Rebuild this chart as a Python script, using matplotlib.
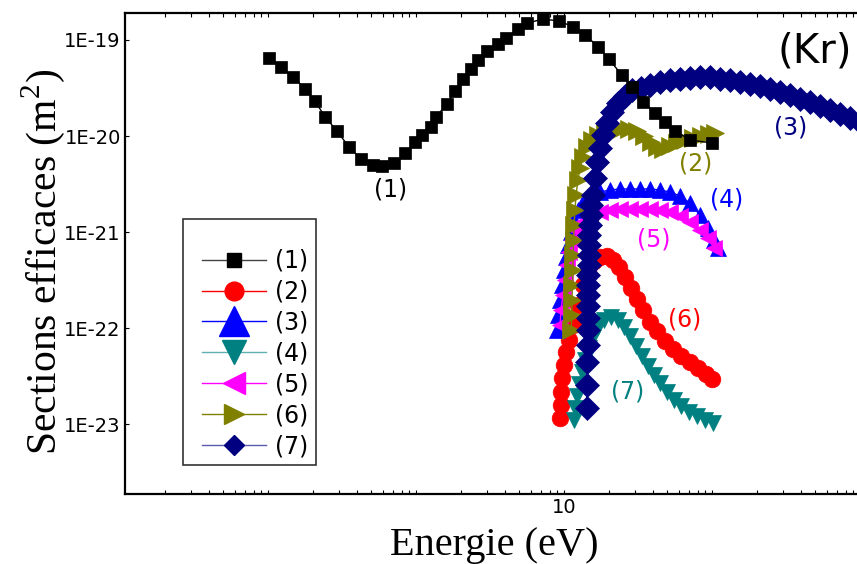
"""
Kr cross sections vs electron energy, log-log, seven data sets.
"""

import matplotlib

matplotlib.use("Agg")
import matplotlib.pyplot as plt  # noqa: E402
import numpy as np  # noqa: E402
from matplotlib.lines import Line2D  # noqa: E402
from matplotlib.patches import Rectangle  # noqa: E402
from matplotlib.ticker import FuncFormatter, LogLocator, NullLocator  # noqa: E402

# (1) momentum transfer, black squares
energy_1 = [0.102, 0.1225, 0.148, 0.178, 0.208, 0.243, 0.292, 0.352, 0.425, 0.512,
            0.589, 0.71, 0.843, 0.985, 1.10, 1.26, 1.36, 1.62, 1.84, 2.08,
            2.35, 2.62, 3.02, 3.58, 4.06, 4.89, 5.62, 7.21, 9.25, 11.5,
            13.9, 17.0, 20.1, 24.7, 28.8, 34.2, 41.2, 48.1, 56.2, 71.0, 100.0]
sigma_1 = [6.5e-20, 5.2e-20, 4.1e-20, 3.1e-20, 2.3e-20, 1.58e-20, 1.13e-20, 7.7e-21, 5.75e-21, 5.0e-21,
           4.87e-21, 5.2e-21, 6.65e-21, 8.66e-21, 1.02e-20, 1.24e-20, 1.58e-20, 2.15e-20, 2.94e-20, 3.9e-20,
           4.99e-20, 6.2e-20, 7.7e-20, 9.1e-20, 1.05e-19, 1.30e-19, 1.50e-19, 1.65e-19, 1.58e-19, 1.37e-19,
           1.13e-19, 8.5e-20, 6.3e-20, 4.3e-20, 3.24e-20, 2.26e-20, 1.74e-20, 1.40e-20, 1.13e-20, 9.1e-21, 8.45e-21]

# (2) red circles
energy_2 = [9.40, 9.47, 9.54, 9.69, 10.0, 10.31, 10.81, 11.50, 12.43, 13.44,
            14.53, 15.95, 17.51, 19.52, 21.43, 23.53, 25.83, 28.37, 31.13, 34.19,
            38.12, 42.51, 48.13, 54.51, 61.74, 71.03, 80.44, 91.09, 100.0]
sigma_2 = [1.15e-23, 1.58e-23, 2.15e-23, 3.01e-23, 4.12e-23, 5.62e-23, 7.50e-23, 1.07e-22, 1.74e-22, 2.81e-22,
           4.02e-22, 4.99e-22, 5.49e-22, 5.62e-22, 5.11e-22, 4.32e-22, 3.40e-22, 2.61e-22, 2.00e-22, 1.54e-22,
           1.15e-22, 9.31e-23, 7.32e-23, 6.04e-23, 5.11e-23, 4.43e-23, 3.83e-23, 3.32e-23, 2.94e-23]

# (3) blue up triangles
energy_3 = [8.97, 9.11, 9.40, 9.69, 10.0, 10.31, 10.64, 11.15, 11.68, 12.43,
            13.44, 14.99, 17.51, 20.46, 23.90, 27.92, 32.62, 38.12, 44.54, 52.03,
            60.79, 71.03, 82.98, 93.97, 103.2, 109.8]
sigma_3 = [9.53e-23, 1.37e-22, 1.96e-22, 2.81e-22, 4.02e-22, 5.49e-22, 7.32e-22, 1.00e-21, 1.33e-21, 1.70e-21,
           2.05e-21, 2.37e-21, 2.61e-21, 2.74e-21, 2.81e-21, 2.81e-21, 2.81e-21, 2.81e-21, 2.74e-21, 2.61e-21,
           2.37e-21, 2.00e-21, 1.50e-21, 1.10e-21, 8.25e-22, 6.81e-22]

# (4) teal down triangles
energy_4 = [11.68, 11.87, 12.24, 12.63, 13.23, 13.87, 14.75, 15.70, 16.97, 18.63,
            20.78, 23.17, 25.43, 27.92, 30.66, 33.65, 36.95, 40.57, 44.54, 49.65,
            55.37, 61.74, 69.93, 79.20, 89.68, 101.6]
sigma_4 = [1.10e-23, 1.47e-23, 1.96e-23, 2.61e-23, 3.48e-23, 4.64e-23, 6.19e-23, 8.06e-23, 1.02e-22, 1.21e-22,
           1.30e-22, 1.21e-22, 1.02e-22, 8.25e-23, 6.49e-23, 5.11e-23, 4.02e-23, 3.24e-23, 2.67e-23, 2.15e-23,
           1.78e-23, 1.54e-23, 1.33e-23, 1.21e-23, 1.10e-23, 1.02e-23]

# (5) magenta left triangles
energy_5 = [9.40, 9.54, 9.84, 10.16, 10.48, 10.81, 11.33, 12.05, 13.23, 14.99,
            17.51, 20.46, 23.90, 27.92, 32.62, 38.12, 44.54, 52.03, 60.79, 71.03,
            82.98, 93.97, 103.2]
sigma_5 = [1.07e-22, 1.54e-22, 2.21e-22, 3.16e-22, 4.53e-22, 6.19e-22, 8.25e-22, 1.05e-21, 1.27e-21, 1.47e-21,
           1.62e-21, 1.70e-21, 1.74e-21, 1.74e-21, 1.74e-21, 1.74e-21, 1.70e-21, 1.62e-21, 1.47e-21, 1.27e-21,
           1.05e-21, 8.66e-22, 6.81e-22]

# (6) olive right triangles
energy_6 = [11.20, 11.27, 11.33, 11.40, 11.47, 11.53, 11.60, 11.68, 11.87, 12.05,
            12.43, 12.83, 13.44, 14.30, 15.46, 16.97, 18.92, 21.43, 24.27, 27.49,
            31.13, 34.72, 38.72, 42.51, 46.67, 52.03, 58.02, 65.70, 74.41, 84.28,
            95.44, 104.8]
sigma_6 = [9.53e-23, 1.37e-22, 1.96e-22, 2.81e-22, 4.02e-22, 5.76e-22, 8.25e-22, 1.18e-21, 1.70e-21, 2.43e-21,
           3.48e-21, 4.64e-21, 6.04e-21, 7.68e-21, 9.08e-21, 1.02e-20, 1.10e-20, 1.15e-20, 1.18e-20, 1.18e-20,
           1.13e-20, 1.00e-20, 8.66e-21, 7.68e-21, 7.32e-21, 7.87e-21, 8.46e-21, 9.08e-21, 9.53e-21, 1.00e-20,
           1.05e-20, 1.07e-20]

# (7) navy diamonds
energy_7 = [14.20, 14.30, 14.40, 14.45, 14.50, 14.53, 14.55, 14.58, 14.60, 14.62,
            14.65, 14.70, 14.75, 14.85, 14.95, 15.10, 15.30, 15.70, 16.20, 16.71,
            17.51, 18.35, 19.52, 21.10, 23.17, 25.83, 28.81, 33.14, 38.12, 44.54,
            52.03, 60.79, 71.03, 82.98, 96.94, 113.3, 132.3, 154.6, 180.6, 211.0,
            246.6, 288.1, 336.5, 393.2, 459.4, 536.7, 627.1, 732.6, 855.8, 1000.0]
sigma_7 = [1.47e-23, 2.55e-23, 4.43e-23, 6.65e-23, 9.53e-23, 1.27e-22, 1.70e-22, 2.21e-22, 2.81e-22, 3.56e-22,
           4.53e-22, 5.76e-22, 7.32e-22, 9.31e-22, 1.18e-21, 1.50e-21, 1.91e-21, 2.43e-21, 3.65e-21, 5.36e-21,
           7.50e-21, 1.02e-20, 1.37e-20, 1.78e-20, 2.21e-20, 2.61e-20, 3.01e-20, 3.16e-20, 3.40e-20, 3.65e-20,
           3.83e-20, 3.93e-20, 4.02e-20, 4.12e-20, 4.12e-20, 3.93e-20, 3.83e-20, 3.65e-20, 3.48e-20, 3.32e-20,
           3.09e-20, 2.87e-20, 2.67e-20, 2.43e-20, 2.26e-20, 2.05e-20, 1.87e-20, 1.70e-20, 1.54e-20, 1.40e-20]

labels = ["(1)", "(2)", "(3)", "(4)", "(5)", "(6)", "(7)"]
colors = ["black", "#ff0000", "#0000ff", "#008080", "#ff00ff", "#808000", "#000080"]
markers = ["s", "o", "^", "v", "<", ">", "D"]

W, H = 857, 564


def fx(px):
    return px / W


def fy(py):
    return 1 - py / H


fig = plt.figure(figsize=(W / 100, H / 100), dpi=100)
ax = fig.add_axes([fx(125), fy(494), (860 - 125) / W, (494 - 13) / H])
ax.set_xscale("log")
ax.set_yscale("log")
ax.set_xlim(0.0108, 1000)
ax.set_ylim(1.87e-24, 1.91e-19)

data = [(energy_1, sigma_1), (energy_2, sigma_2), (energy_3, sigma_3), (energy_4, sigma_4),
        (energy_5, sigma_5), (energy_6, sigma_6), (energy_7, sigma_7)]
plot_ms = [8.5, 12, 12, 12, 12, 12.5, 12]
for i, ((e, s), c, m, ms) in enumerate(zip(data, colors, markers, plot_ms)):
    ax.plot(e, s, color=c, lw=1, marker=m, ms=ms, mec=c, mew=0.5,
            zorder=10 if i == 0 else 3 + i)

# axes styling
for side in ("left", "bottom", "top"):
    ax.spines[side].set_linewidth(1.6)
ax.spines["right"].set_visible(False)
ax.xaxis.set_major_locator(LogLocator(base=10, numticks=20))
ax.xaxis.set_minor_locator(LogLocator(base=10, subs=np.arange(2, 10), numticks=20))
ax.xaxis.set_major_formatter(FuncFormatter(lambda v, p: "10" if abs(v - 10) < 1e-6 else ""))
ax.xaxis.set_minor_formatter(FuncFormatter(lambda v, p: ""))
ax.yaxis.set_major_locator(LogLocator(base=10, numticks=20))
ax.yaxis.set_minor_locator(NullLocator())
ax.yaxis.set_major_formatter(FuncFormatter(lambda v, p: f"1E{int(round(np.log10(v)))}"))
ax.tick_params(which="both", direction="in", top=True, right=False, length=3, width=0.8,
               labelsize=14, pad=3)

# legend: box drawn separately so the padding matches
legend_ms = [9.5, 13.5, 22, 17, 16, 15, 10.5]
legend_line = ["#444444", "#ff0000", "#0000ff", "#5fb0b0", "#ff00ff", "#808000", "#5a5ab0"]
handles = [Line2D([], [], color=lc, lw=1, marker=m, ms=ms, mfc=c, mec=c)
           for c, lc, m, ms in zip(colors, legend_line, markers, legend_ms)]
ax.add_patch(Rectangle((fx(183), fy(465)), (316 - 183) / W, (465 - 219) / H,
                       transform=fig.transFigure, facecolor="white", edgecolor="#333333",
                       lw=1.2, zorder=20, clip_on=False))
leg = ax.legend(handles, labels, loc="upper left", bbox_to_anchor=(fx(202), fy(249)),
                bbox_transform=fig.transFigure, frameon=False, fontsize=17, numpoints=1,
                handlelength=2.7, handletextpad=0.38, labelspacing=0.29,
                borderpad=0, borderaxespad=0)
leg.set_zorder(21)

# curve labels
annotations = [("(1)", "black", 391, 190), ("(2)", "#808000", 696, 163),
               ("(3)", "#000080", 791, 127), ("(4)", "#0000ff", 727, 199),
               ("(5)", "#ff00ff", 654, 239), ("(6)", "#ff0000", 685, 320),
               ("(7)", "#008080", 628, 392)]
for txt, c, px, py in annotations:
    fig.text(fx(px), fy(py), txt, color=c, fontsize=17, ha="center", va="center")
fig.text(fx(815), fy(52), "(Kr)", fontsize=29, ha="center", va="center")

fig.text(fx(494), fy(545), "Energie (eV)", family="Liberation Serif", fontsize=29,
         ha="center", va="center")
fig.text(fx(43), fy(262), r"Sections efficaces (m$^{\mathregular{2}}$)",
         family="Liberation Serif", fontsize=30, rotation=90, ha="center", va="center")

fig.savefig("out.png", dpi=100)
